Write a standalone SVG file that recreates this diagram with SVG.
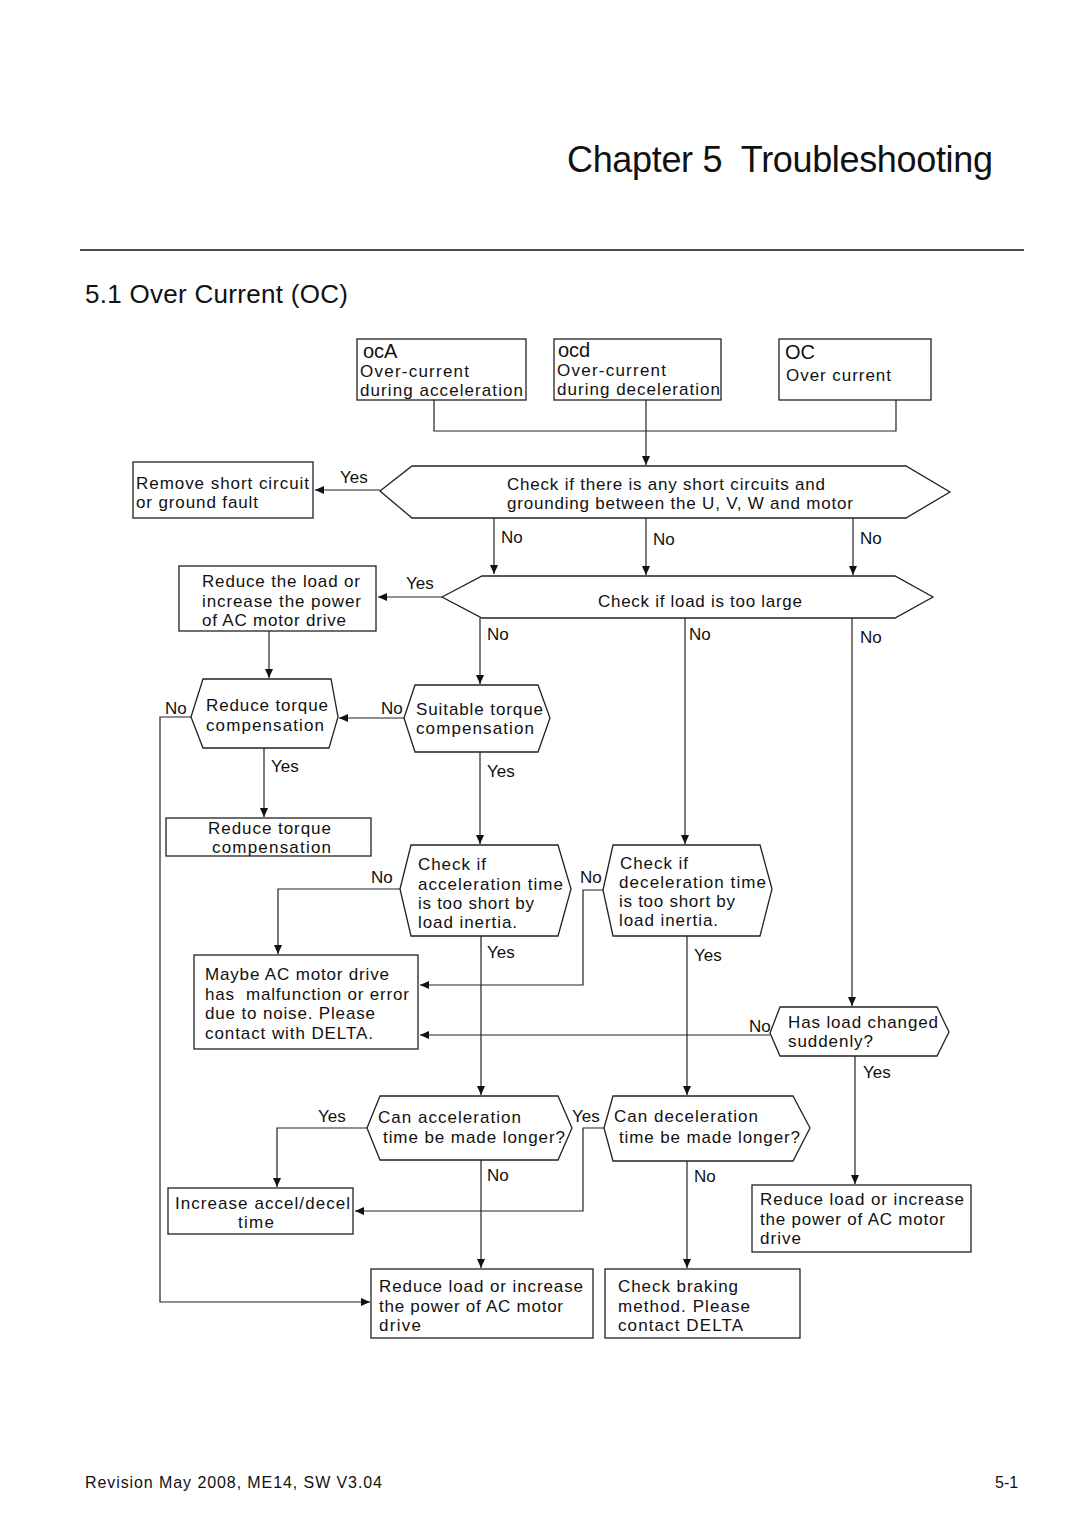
<svg xmlns="http://www.w3.org/2000/svg" width="1080" height="1534" viewBox="0 0 1080 1534">
<style>
.t{font-family:"Liberation Sans",Arial,Helvetica,sans-serif;font-size:17px;fill:#111}
.n{fill:#fff;stroke:#222;stroke-width:1.3}
.c{fill:none;stroke:#222;stroke-width:1.2}
.a{marker-end:url(#ar)}
</style>
<defs>
<marker id="ar" markerWidth="9" markerHeight="8" refX="9" refY="4" orient="auto" markerUnits="userSpaceOnUse">
<path d="M0,0 L9,4 L0,8 z" fill="#111"/>
</marker>
</defs>
<rect width="1080" height="1534" fill="#fff"/>
<g id="page">
<text class="t" x="567" y="172" style="font-size:36px" textLength="426" lengthAdjust="spacing" xml:space="preserve">Chapter 5  Troubleshooting</text>
<line x1="80" y1="250" x2="1024" y2="250" stroke="#111" stroke-width="1.5"/>
<text class="t" x="85" y="303" style="font-size:26px" textLength="263" lengthAdjust="spacing">5.1 Over Current (OC)</text>
<text class="t" x="85" y="1488" style="font-size:16px" textLength="297" lengthAdjust="spacing">Revision May 2008, ME14, SW V3.04</text>
<text class="t" x="995" y="1488" style="font-size:16px">5-1</text>
</g>
<g id="connectors">
<path class="c" d="M434,400 V431 H896 V400"/>
<path class="c a" d="M646,400 V465"/>
<path class="c a" d="M380,490 H315"/>
<path class="c a" d="M494,518 V574"/>
<path class="c a" d="M646,518 V575"/>
<path class="c a" d="M853,518 V575"/>
<path class="c a" d="M442,597 H378"/>
<path class="c a" d="M269,631 V678"/>
<path class="c a" d="M480,618 V684"/>
<path class="c a" d="M685,618 V844"/>
<path class="c a" d="M852,618 V1006"/>
<path class="c a" d="M404,718 H339"/>
<path class="c a" d="M191,717 H160 V1302 H370"/>
<path class="c a" d="M264,748 V817"/>
<path class="c a" d="M480,752 V844"/>
<path class="c a" d="M400,889 H278 V954"/>
<path class="c a" d="M481,936 V1095"/>
<path class="c a" d="M603,890 H583 V985 H420"/>
<path class="c a" d="M687,936 V1095"/>
<path class="c a" d="M770,1035 H420"/>
<path class="c a" d="M855,1056 V1184"/>
<path class="c a" d="M367,1128 H277 V1187"/>
<path class="c a" d="M481,1160 V1268"/>
<path class="c a" d="M604,1128 H583 V1211 H355"/>
<path class="c a" d="M687,1161 V1268"/>
</g>
<g id="labels">
<text class="t" x="340" y="483">Yes</text>
<text class="t" x="501" y="543">No</text>
<text class="t" x="653" y="545">No</text>
<text class="t" x="860" y="544">No</text>
<text class="t" x="406" y="589">Yes</text>
<text class="t" x="487" y="640">No</text>
<text class="t" x="689" y="640">No</text>
<text class="t" x="860" y="643">No</text>
<text class="t" x="165" y="714">No</text>
<text class="t" x="381" y="714">No</text>
<text class="t" x="271" y="772">Yes</text>
<text class="t" x="487" y="777">Yes</text>
<text class="t" x="371" y="883">No</text>
<text class="t" x="580" y="883">No</text>
<text class="t" x="487" y="958">Yes</text>
<text class="t" x="694" y="961">Yes</text>
<text class="t" x="749" y="1032">No</text>
<text class="t" x="863" y="1078">Yes</text>
<text class="t" x="318" y="1122">Yes</text>
<text class="t" x="572" y="1122">Yes</text>
<text class="t" x="487" y="1181">No</text>
<text class="t" x="694" y="1182">No</text>
</g>
<g id="ocA">
<rect class="n" x="357" y="339" width="169" height="61"/>
<text class="t" x="363" y="358" style="font-size:20px">ocA</text>
<text class="t" x="360" y="377" textLength="109" lengthAdjust="spacing">Over-current</text>
<text class="t" x="360" y="396" textLength="163" lengthAdjust="spacing">during acceleration</text>
</g>
<g id="ocd">
<rect class="n" x="554" y="339" width="167" height="61"/>
<text class="t" x="558" y="357" style="font-size:20px">ocd</text>
<text class="t" x="557" y="376" textLength="109" lengthAdjust="spacing">Over-current</text>
<text class="t" x="557" y="395" textLength="163" lengthAdjust="spacing">during deceleration</text>
</g>
<g id="OC">
<rect class="n" x="779" y="339" width="152" height="61"/>
<text class="t" x="785" y="359" style="font-size:20px">OC</text>
<text class="t" x="786" y="381" textLength="105" lengthAdjust="spacing">Over current</text>
</g>
<g id="short-check">
<polygon class="n" points="380,491 412,466 906,466 950,492 906,518 412,518"/>
<text class="t" x="507" y="490" textLength="318" lengthAdjust="spacing">Check if there is any short circuits and</text>
<text class="t" x="507" y="509" textLength="346" lengthAdjust="spacing">grounding between the U, V, W and motor</text>
</g>
<g id="remove-short">
<rect class="n" x="133" y="462" width="180" height="56"/>
<text class="t" x="136" y="489" textLength="173" lengthAdjust="spacing">Remove short circuit</text>
<text class="t" x="136" y="508" textLength="122" lengthAdjust="spacing">or ground fault</text>
</g>
<g id="load-check">
<polygon class="n" points="442,597 482,576 895,576 933,597 895,618 482,618"/>
<text class="t" x="598" y="607" textLength="204" lengthAdjust="spacing">Check if load is too large</text>
</g>
<g id="reduce-load-1">
<rect class="n" x="179" y="566" width="197" height="65"/>
<text class="t" x="202" y="587" textLength="158" lengthAdjust="spacing">Reduce the load or</text>
<text class="t" x="202" y="607" textLength="159" lengthAdjust="spacing">increase the power</text>
<text class="t" x="202" y="626" textLength="144" lengthAdjust="spacing">of AC motor drive</text>
</g>
<g id="reduce-torque-q">
<polygon class="n" points="191,717 203,679 331,679 338,717 329,748 203,748"/>
<text class="t" x="206" y="711" textLength="122" lengthAdjust="spacing">Reduce torque</text>
<text class="t" x="206" y="731" textLength="118" lengthAdjust="spacing">compensation</text>
</g>
<g id="suitable-torque">
<polygon class="n" points="404,718 415,685 538,685 550,718 538,752 415,752"/>
<text class="t" x="416" y="715" textLength="127" lengthAdjust="spacing">Suitable torque</text>
<text class="t" x="416" y="734" textLength="118" lengthAdjust="spacing">compensation</text>
</g>
<g id="reduce-torque-box">
<rect class="n" x="166" y="818" width="205" height="38"/>
<text class="t" x="208" y="834" textLength="123" lengthAdjust="spacing">Reduce torque</text>
<text class="t" x="212" y="853" textLength="119" lengthAdjust="spacing">compensation</text>
</g>
<g id="check-accel">
<polygon class="n" points="400,889 411,845 558,845 571,889 558,936 411,936"/>
<text class="t" x="418" y="870" textLength="68" lengthAdjust="spacing">Check if</text>
<text class="t" x="418" y="890" textLength="145" lengthAdjust="spacing">acceleration time</text>
<text class="t" x="418" y="909" textLength="116" lengthAdjust="spacing">is too short by</text>
<text class="t" x="418" y="928" textLength="99" lengthAdjust="spacing">load inertia.</text>
</g>
<g id="check-decel">
<polygon class="n" points="603,890 613,845 760,845 772,889 760,936 613,936"/>
<text class="t" x="620" y="869" textLength="68" lengthAdjust="spacing">Check if</text>
<text class="t" x="619" y="888" textLength="147" lengthAdjust="spacing">deceleration time</text>
<text class="t" x="619" y="907" textLength="116" lengthAdjust="spacing">is too short by</text>
<text class="t" x="619" y="926" textLength="99" lengthAdjust="spacing">load inertia.</text>
</g>
<g id="maybe-malfunction">
<rect class="n" x="194" y="955" width="224" height="94"/>
<text class="t" x="205" y="980" textLength="184" lengthAdjust="spacing">Maybe AC motor drive</text>
<text class="t" x="205" y="1000" textLength="204" lengthAdjust="spacing" xml:space="preserve">has  malfunction or error</text>
<text class="t" x="205" y="1019" textLength="170" lengthAdjust="spacing">due to noise. Please</text>
<text class="t" x="205" y="1039" textLength="168" lengthAdjust="spacing">contact with DELTA.</text>
</g>
<g id="load-changed">
<polygon class="n" points="770,1033 780,1007 937,1007 949,1032 937,1056 780,1056"/>
<text class="t" x="788" y="1028" textLength="150" lengthAdjust="spacing">Has load changed</text>
<text class="t" x="788" y="1047" textLength="85" lengthAdjust="spacing">suddenly?</text>
</g>
<g id="reduce-load-3">
<rect class="n" x="752" y="1185" width="219" height="67"/>
<text class="t" x="760" y="1205" textLength="204" lengthAdjust="spacing">Reduce load or increase</text>
<text class="t" x="760" y="1225" textLength="185" lengthAdjust="spacing">the power of AC motor</text>
<text class="t" x="760" y="1244" textLength="41" lengthAdjust="spacing">drive</text>
</g>
<g id="can-accel">
<polygon class="n" points="367,1128 380,1096 558,1096 572,1128 558,1160 380,1160"/>
<text class="t" x="378" y="1123" textLength="143" lengthAdjust="spacing">Can acceleration</text>
<text class="t" x="383" y="1143" textLength="182" lengthAdjust="spacing">time be made longer?</text>
</g>
<g id="can-decel">
<polygon class="n" points="604,1128 613,1096 793,1096 810,1128 793,1161 613,1161"/>
<text class="t" x="614" y="1122" textLength="144" lengthAdjust="spacing">Can deceleration</text>
<text class="t" x="619" y="1143" textLength="181" lengthAdjust="spacing">time be made longer?</text>
</g>
<g id="increase-time">
<rect class="n" x="168" y="1188" width="185" height="46"/>
<text class="t" x="175" y="1209" textLength="175" lengthAdjust="spacing">Increase accel/decel</text>
<text class="t" x="238" y="1228" textLength="36" lengthAdjust="spacing">time</text>
</g>
<g id="reduce-load-2">
<rect class="n" x="371" y="1269" width="222" height="69"/>
<text class="t" x="379" y="1292" textLength="204" lengthAdjust="spacing">Reduce load or increase</text>
<text class="t" x="379" y="1312" textLength="184" lengthAdjust="spacing">the power of AC motor</text>
<text class="t" x="379" y="1331" textLength="42" lengthAdjust="spacing">drive</text>
</g>
<g id="check-braking">
<rect class="n" x="605" y="1269" width="195" height="69"/>
<text class="t" x="618" y="1292" textLength="120" lengthAdjust="spacing">Check braking</text>
<text class="t" x="618" y="1312" textLength="132" lengthAdjust="spacing">method. Please</text>
<text class="t" x="618" y="1331" textLength="125" lengthAdjust="spacing">contact DELTA</text>
</g>
</svg>
